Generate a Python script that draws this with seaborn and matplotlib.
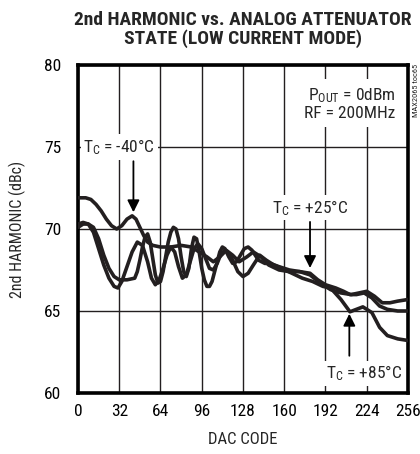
import matplotlib
matplotlib.use("Agg")
import matplotlib.pyplot as plt
import seaborn as sns
import pandas as pd
from matplotlib import font_manager

# curve data (DAC code, 2nd harmonic in dBc)
dac_m40 = [0, 6, 10, 14, 18, 22, 26, 30, 34, 38, 42, 45, 48, 51, 54, 58, 64, 72, 80, 88,
           94, 100, 105, 110, 115, 120, 125, 131, 136, 142, 148, 156, 164, 172, 180, 188,
           196, 204, 212, 218, 224, 230, 236, 242, 248, 256]
h2_m40 = [71.9, 71.9, 71.8, 71.5, 71.1, 70.6, 70.2, 70.0, 70.2, 70.6, 70.8, 70.6, 70.1, 69.6,
          69.2, 69.0, 68.9, 68.9, 69.0, 68.9, 68.6, 68.3, 68.0, 68.3, 68.7, 68.4, 68.0, 68.3,
          68.6, 68.3, 67.8, 67.5, 67.4, 67.4, 67.2, 66.7, 66.3, 66.1, 66.0, 66.1, 66.2, 65.9,
          65.5, 65.5, 65.6, 65.7]

dac_p25 = [0, 4, 8, 12, 16, 20, 24, 28, 32, 38, 44, 46, 48, 50, 52, 54, 56, 58, 60, 62, 64,
           66, 68, 70, 72, 74, 76, 78, 80, 82, 84, 86, 88, 90, 92, 94, 96, 98, 100, 102, 104,
           107, 110, 112, 114, 117, 120, 123, 126, 129, 132, 135, 140, 145, 149, 156, 164,
           172, 180, 186, 192, 200, 206, 211, 216, 222, 228, 234, 240, 248, 256]
h2_p25 = [70.1, 70.3, 70.3, 70.1, 69.4, 68.4, 67.6, 67.1, 66.9, 66.9, 67.0, 67.4, 68.1, 68.9,
          69.5, 69.7, 69.2, 68.2, 67.2, 66.7, 66.8, 67.4, 68.3, 69.2, 69.8, 70.1, 70.0, 69.4,
          68.3, 67.4, 67.1, 67.6, 68.8, 69.5, 69.4, 68.6, 67.6, 66.9, 66.5, 66.5, 66.8, 67.7,
          68.6, 68.9, 68.8, 68.3, 67.9, 68.0, 68.4, 68.8, 68.9, 68.7, 68.1, 67.9, 67.9, 67.7,
          67.5, 67.4, 67.3, 66.9, 66.6, 66.4, 66.2, 66.0, 66.0, 66.1, 65.8, 65.3, 65.1, 65.0,
          65.0]

dac_p85 = [0, 4, 8, 12, 16, 20, 24, 28, 31, 34, 38, 42, 46, 50, 54, 57, 60, 63, 66, 69, 72,
           75, 78, 81, 84, 87, 90, 93, 96, 99, 102, 105, 108, 111, 114, 117, 120, 124, 128,
           132, 136, 141, 146, 152, 158, 166, 174, 182, 190, 196, 204, 211, 216, 221, 228,
           234, 240, 248, 256]
h2_p85 = [70.3, 70.4, 70.3, 69.8, 68.8, 67.8, 67.0, 66.5, 66.4, 66.8, 67.7, 68.6, 69.2, 69.0,
          68.0, 67.0, 66.6, 66.9, 67.6, 68.4, 68.9, 68.6, 67.7, 67.0, 67.2, 68.0, 68.8, 69.1,
          68.8, 68.2, 67.6, 67.5, 67.9, 68.5, 68.7, 68.5, 68.1, 67.4, 67.1, 67.3, 67.8, 68.4,
          68.1, 67.8, 67.6, 67.3, 67.0, 66.8, 66.5, 66.4, 65.7, 64.95, 65.1, 65.25, 64.9,
          64.0, 63.5, 63.3, 63.2]

x_ticks = [0, 32, 64, 96, 128, 160, 192, 224, 256]
y_ticks = [60, 65, 70, 75, 80]

sns.set_style("white")
names = {f.name for f in font_manager.fontManager.ttflist}
narrow = "Roboto"
for cand in ["Roboto Condensed", "Liberation Sans Narrow", "Arial Narrow"]:
    if cand in names:
        narrow = cand
        break
plt.rcParams["font.family"] = [narrow, "DejaVu Sans"]
plt.rcParams["mathtext.fontset"] = "custom"
plt.rcParams["mathtext.rm"] = narrow
plt.rcParams["mathtext.it"] = narrow
plt.rcParams["mathtext.default"] = "rm"

ink = "#231f20"
fig = plt.figure(figsize=(4.2, 4.54), dpi=100)
ax = fig.add_axes([0.1857, 0.1344, 0.7857, 0.7225])

for xs, ys in [(dac_m40, h2_m40), (dac_p25, h2_p25), (dac_p85, h2_p85)]:
    df = pd.DataFrame({"dac": xs, "h2": ys})
    sns.lineplot(data=df, x="dac", y="h2", ax=ax, color=ink, lw=2.6, sort=False,
                 estimator=None, solid_joinstyle="round", solid_capstyle="round", zorder=3)

ax.set_xlim(0, 256)
ax.set_ylim(60, 80)
ax.set_xticks(x_ticks)
ax.set_yticks(y_ticks)
ax.tick_params(length=0, labelsize=12.5, colors="black")
ax.tick_params(axis="x", pad=8)
ax.tick_params(axis="y", pad=12)
ax.grid(True, color=ink, lw=1.0)
for s in ax.spines.values():
    s.set_color("black")
    s.set_linewidth(2.6)

ax.set_xlabel("DAC CODE", fontsize=12, labelpad=9)
ax.set_ylabel("2nd HARMONIC (dBc)", fontsize=11.5, labelpad=13)
ax.set_title("2nd HARMONIC vs. ANALOG ATTENUATOR\nSTATE (LOW CURRENT MODE)",
             fontsize=14, fontweight="black", linespacing=1.05, pad=15)

box = dict(facecolor="white", edgecolor="none", pad=2)
ax.text(32, 75, "T$_{C}$ = -40°C", ha="center", va="center", fontsize=12.5, bbox=box, zorder=4)
ax.annotate("", xy=(43, 70.85), xytext=(43, 74.3),
            arrowprops=dict(arrowstyle="-|>", color="black", lw=1.3, mutation_scale=18), zorder=4)

ax.text(180, 71.3, "T$_{C}$ = +25°C", ha="center", va="center", fontsize=12.5, bbox=box, zorder=4)
ax.annotate("", xy=(180, 67.45), xytext=(180, 70.6),
            arrowprops=dict(arrowstyle="-|>", color="black", lw=1.3, mutation_scale=18), zorder=4)

ax.text(222, 61.2, "T$_{C}$ = +85°C", ha="center", va="center", fontsize=12.5, bbox=box, zorder=4)
ax.annotate("", xy=(210.5, 65.0), xytext=(210.5, 62.1),
            arrowprops=dict(arrowstyle="-|>", color="black", lw=1.3, mutation_scale=18), zorder=4)

ax.text(246, 78.7, "P$_{OUT}$ = 0dBm\nRF = 200MHz", ha="right", va="top", fontsize=12.5,
        linespacing=1.1, bbox=dict(facecolor="white", edgecolor="none", pad=4), zorder=4)

fig.text(0.99, 0.86, "MAX2065 toc65", rotation=90, ha="center", va="top", fontsize=6)

fig.savefig("out.png", dpi=100)
